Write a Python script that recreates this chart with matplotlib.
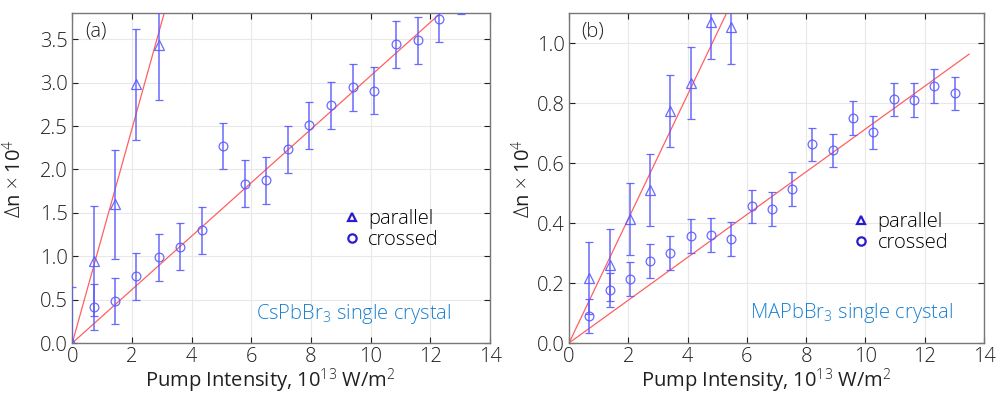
import matplotlib
matplotlib.use('Agg')
import matplotlib.pyplot as plt
from matplotlib.lines import Line2D

plt.rcParams['font.family'] = ['Open Sans', 'DejaVu Sans']
plt.rcParams['font.weight'] = 'light'
plt.rcParams['mathtext.fontset'] = 'custom'
plt.rcParams['mathtext.rm'] = 'Open Sans:light'
plt.rcParams['mathtext.it'] = 'Open Sans:light'

# -----------------------------
# Data
# -----------------------------
# (a) CsPbBr3
a_par_x = [0.0, 0.74, 1.44, 2.15, 2.89]
a_par_y = [0.0, 0.945, 1.60, 2.98, 3.44]
a_par_err = [0.64, 0.63, 0.63, 0.64, 0.64]

a_cr_x = [0.74, 1.44, 2.15, 2.90, 3.61, 4.34, 5.05, 5.78, 6.50, 7.24, 7.95,
          8.67, 9.41, 10.12, 10.85, 11.58, 12.30, 13.02]
a_cr_y = [0.415, 0.484, 0.77, 0.99, 1.11, 1.30, 2.27, 1.835, 1.878, 2.235, 2.508,
          2.738, 2.945, 2.91, 3.445, 3.487, 3.736, 4.06]
a_cr_err = [0.27] * len(a_cr_x)

a_par_slope = 1.234
a_cr_slope = 0.308

# (b) MAPbBr3
b_par_x = [0.675, 1.37, 2.07, 2.74, 3.42, 4.10, 4.80, 5.48]
b_par_y = [0.216, 0.261, 0.413, 0.509, 0.774, 0.869, 1.07, 1.053]
b_par_err = [0.12, 0.12, 0.12, 0.12, 0.12, 0.12, 0.124, 0.123]

b_cr_x = [0.675, 1.37, 2.06, 2.74, 3.42, 4.10, 4.79, 5.48, 6.16, 6.85, 7.53,
          8.21, 8.91, 9.59, 10.27, 10.96, 11.63, 12.31, 13.01]
b_cr_y = [0.0905, 0.1765, 0.213, 0.273, 0.30, 0.357, 0.361, 0.347, 0.456, 0.447,
          0.514, 0.663, 0.643, 0.750, 0.7025, 0.813, 0.811, 0.858, 0.833]
b_cr_err = [0.056] * len(b_cr_x)

b_par_slope = 0.207
b_cr_slope = 0.0714

fit_x = [0.0, 13.5]

# -----------------------------
# Plotting
# -----------------------------
fig = plt.figure(figsize=(10.01, 3.95), dpi=100)
ax_a = fig.add_axes([0.0722, 0.1316, 0.4173, 0.8347])
ax_b = fig.add_axes([0.5684, 0.1316, 0.4146, 0.8347])

dot_c = '#5a5aff'
leg_c = '#2a1ccc'
fit_c = '#ff6060'
txt_c = '#202020'


def panel(ax, px, py, pe, cx, cy, ce, ps, cs, ylim, yticks, tag, note, note_xy, leg_xy, ylab_x):
    ax.plot(fit_x, [ps * v for v in fit_x], color=fit_c, lw=0.9, zorder=2)
    ax.plot(fit_x, [cs * v for v in fit_x], color=fit_c, lw=0.9, zorder=2)
    ax.errorbar(px, py, yerr=pe, fmt='^', ms=7, mfc='none', mec=dot_c, mew=0.9,
                ecolor=dot_c, elinewidth=1.1, capsize=3, capthick=1.0,
                alpha=0.9, zorder=3)
    ax.errorbar(cx, cy, yerr=ce, fmt='o', ms=6.3, mfc='none', mec=dot_c, mew=0.9,
                ecolor=dot_c, elinewidth=1.1, capsize=3, capthick=1.0,
                alpha=0.9, zorder=3)
    ax.set_xlim(0, 14)
    ax.set_ylim(*ylim)
    ax.set_xticks(range(0, 15, 2))
    ax.set_yticks(yticks)
    ax.set_yticklabels(['%.1f' % t for t in yticks])
    ax.grid(True, color='#e8e8e8', lw=0.8)
    ax.set_axisbelow(True)
    ax.tick_params(direction='in', top=True, right=True, length=4,
                   labelsize=14.5, colors=txt_c, pad=3)
    for s in ax.spines.values():
        s.set_color('#777777')
        s.set_linewidth(1.0)
    ax.set_xlabel(r'Pump Intensity, 10$^{13}$ W/m$^{2}$', fontsize=14.5,
                  color=txt_c)
    ax.xaxis.set_label_coords(0.475, -0.072)
    ax.set_ylabel(r'$\Delta$n $\times$ 10$^{4}$', fontsize=14.5, color=txt_c)
    ax.yaxis.set_label_coords(ylab_x, 0.5)
    ax.text(0.03, 0.975, tag, transform=ax.transAxes, fontsize=14.5,
            va='top', ha='left', color=txt_c)
    ax.text(note_xy[0], note_xy[1], note, fontsize=14.5, color='#1a80d0',
            va='center', ha='left')
    handles = [Line2D([], [], ls='none', marker='^', ms=6, mfc='none',
                      mec=leg_c, mew=1.6),
               Line2D([], [], ls='none', marker='o', ms=6, mfc='none',
                      mec=leg_c, mew=1.6)]
    ax.legend(handles, ['parallel', 'crossed'], loc='center left',
              bbox_to_anchor=leg_xy, frameon=False, fontsize=14.5,
              handlelength=0.6, handletextpad=0.5, labelspacing=0.05,
              borderpad=0, borderaxespad=0)


panel(ax_a, a_par_x, a_par_y, a_par_err, a_cr_x, a_cr_y, a_cr_err,
      a_par_slope, a_cr_slope, (0, 3.8), [0, 0.5, 1.0, 1.5, 2.0, 2.5, 3.0, 3.5],
      '(a)', r'CsPbBr$_3$ single crystal', (6.15, 0.33), (0.655, 0.345), -0.11)
panel(ax_b, b_par_x, b_par_y, b_par_err, b_cr_x, b_cr_y, b_cr_err,
      b_par_slope, b_cr_slope, (0, 1.1), [0, 0.2, 0.4, 0.6, 0.8, 1.0],
      '(b)', r'MAPbBr$_3$ single crystal', (6.1, 0.10), (0.69, 0.335), -0.08)

plt.savefig('out.png', dpi=100)
